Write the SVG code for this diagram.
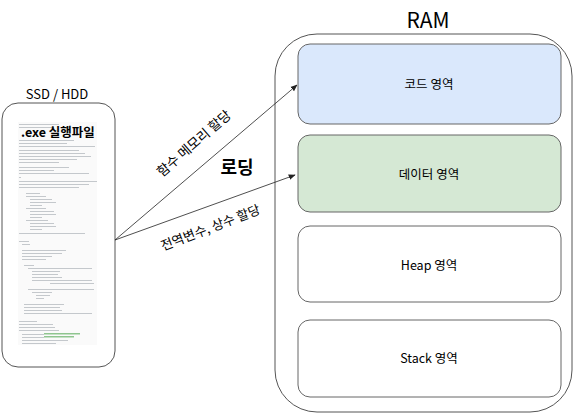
<svg xmlns="http://www.w3.org/2000/svg" width="580" height="414" viewBox="0 0 580 414">
<style>
text{font-family:"Noto Sans CJK KR","Noto Sans",sans-serif;fill:#000}
.box{stroke:#666;stroke-width:1}
.lbl{font-size:12.5px;text-anchor:middle}
.ln{fill:#c4c8cc}
.gl{fill:#8fc58f}
.conn{stroke:#222;stroke-width:0.8;fill:none;marker-end:url(#ah)}
</style>
<defs>
<marker id="ah" viewBox="0 0 10 10" refX="9" refY="5" markerWidth="7" markerHeight="7" orient="auto" markerUnits="userSpaceOnUse">
<path d="M0,1 L10,5 L0,9 z" fill="#222"/>
</marker>
</defs>
<rect width="580" height="414" fill="#fff"/>
<g id="ssd">
<text x="57" y="99" font-size="13" text-anchor="middle" font-family="'Noto Sans',sans-serif">SSD / HDD</text>
<rect x="2" y="103" width="113" height="264" rx="16" fill="#fff" stroke="#555" stroke-width="1"/>
<g id="code-image">
<rect x="18" y="122" width="79" height="223" fill="#fafafa"/>
<g>
<rect class="ln" x="19" y="124" width="40" height="1"/>
<rect class="ln" x="19" y="127" width="35" height="1"/>
<rect class="ln" x="19" y="140" width="55" height="1"/>
<rect class="ln" x="19" y="143" width="48" height="1"/>
<rect class="ln" x="19" y="146" width="76" height="1"/>
<rect class="ln" x="19" y="150" width="60" height="1"/>
<rect class="ln" x="19" y="153" width="66" height="1"/>
<rect class="ln" x="19" y="156" width="72" height="1"/>
<rect class="ln" x="19" y="159" width="58" height="1"/>
<rect class="ln" x="19" y="162" width="40" height="1"/>
<rect class="ln" x="19" y="167" width="50" height="1"/>
<rect class="ln" x="19" y="170" width="35" height="1"/>
<rect class="ln" x="19" y="173" width="70" height="1"/>
<rect class="ln" x="19" y="177" width="2" height="1"/>
<rect class="ln" x="19" y="181" width="78" height="1"/>
<rect class="ln" x="19" y="184" width="70" height="1"/>
<rect class="ln" x="19" y="187" width="60" height="1"/>
<rect class="ln" x="26" y="193" width="14" height="1"/>
<rect class="ln" x="26" y="196" width="20" height="1"/>
<rect class="ln" x="30" y="199" width="22" height="1"/>
<rect class="ln" x="30" y="202" width="26" height="1"/>
<rect class="ln" x="30" y="205" width="12" height="1"/>
<rect class="ln" x="26" y="208" width="20" height="1"/>
<rect class="ln" x="30" y="211" width="24" height="1"/>
<rect class="ln" x="30" y="214" width="26" height="1"/>
<rect class="ln" x="30" y="217" width="12" height="1"/>
<rect class="ln" x="26" y="220" width="22" height="1"/>
<rect class="ln" x="30" y="223" width="24" height="1"/>
<rect class="ln" x="30" y="226" width="26" height="1"/>
<rect class="ln" x="30" y="229" width="12" height="1"/>
<rect class="ln" x="19" y="233" width="66" height="1"/>
<rect class="ln" x="19" y="241" width="10" height="1"/>
<rect class="ln" x="22" y="244" width="8" height="1"/>
<rect class="ln" x="22" y="250" width="44" height="1"/>
<rect class="ln" x="22" y="253" width="40" height="1"/>
<rect class="ln" x="22" y="256" width="30" height="1"/>
<rect class="ln" x="22" y="259" width="24" height="1"/>
<rect class="ln" x="24" y="265" width="10" height="1"/>
<rect class="ln" x="28" y="268" width="64" height="1"/>
<rect class="ln" x="32" y="271" width="28" height="1"/>
<rect class="ln" x="32" y="274" width="26" height="1"/>
<rect class="ln" x="32" y="277" width="30" height="1"/>
<rect class="ln" x="32" y="280" width="60" height="1"/>
<rect class="ln" x="50" y="283" width="44" height="1"/>
<rect class="ln" x="28" y="289" width="66" height="1"/>
<rect class="ln" x="32" y="292" width="20" height="1"/>
<rect class="ln" x="36" y="295" width="14" height="1"/>
<rect class="ln" x="36" y="298" width="8" height="1"/>
<rect class="ln" x="24" y="304" width="40" height="1"/>
<rect class="ln" x="24" y="307" width="36" height="1"/>
<rect class="ln" x="24" y="310" width="38" height="1"/>
<rect class="ln" x="24" y="313" width="68" height="1"/>
<rect class="ln" x="19" y="321" width="18" height="1"/>
<rect class="ln" x="19" y="324" width="34" height="1"/>
<rect class="ln" x="19" y="327" width="36" height="1"/>
<rect class="ln" x="19" y="330" width="40" height="1"/>
<rect class="ln" x="22" y="334" width="22" height="1"/>
<rect class="gl" x="44" y="333" width="36" height="1.5"/>
<rect class="ln" x="22" y="337" width="22" height="1"/>
<rect class="gl" x="44" y="336" width="30" height="1.5"/>
<rect class="ln" x="22" y="340" width="46" height="1"/>
<rect class="ln" x="22" y="343" width="34" height="1"/>
</g>
<text x="21" y="137" font-size="12.5" font-weight="bold">.exe 실행파일</text>
</g>
</g>
<g id="ram">
<text x="428" y="28" font-size="21" text-anchor="middle" font-family="'Noto Sans','Noto Sans CJK KR',sans-serif">RAM</text>
<rect x="275" y="34" width="297" height="378" rx="42" fill="#fff" stroke="#555" stroke-width="1"/>
</g>
<g id="code-area">
<rect class="box" x="298" y="44" width="263" height="80" rx="12" fill="#dae8fc"/>
<text class="lbl" x="429" y="89">코드 영역</text>
</g>
<g id="data-area">
<rect class="box" x="298" y="135" width="263" height="77" rx="12" fill="#d5e8d4"/>
<text class="lbl" x="429" y="179">데이터 영역</text>
</g>
<g id="heap-area">
<rect class="box" x="298" y="226" width="263" height="76" rx="12" fill="#fff"/>
<text class="lbl" x="429" y="270">Heap 영역</text>
</g>
<g id="stack-area">
<rect class="box" x="298" y="320" width="263" height="77" rx="12" fill="#fff"/>
<text class="lbl" x="429" y="363">Stack 영역</text>
</g>
<g id="connectors">
<path class="conn" d="M115,240 L297,85"/>
<path class="conn" d="M115,240 L295,175"/>
<text x="197" y="147" font-size="13.5" text-anchor="middle" transform="rotate(-41 197 147)">함수 메모리 할당</text>
<text x="212" y="232" font-size="13" text-anchor="middle" transform="rotate(-21 212 232)">전역변수, 상수 할당</text>
<text x="237" y="174" font-size="18" font-weight="bold" text-anchor="middle">로딩</text>
</g>
</svg>
